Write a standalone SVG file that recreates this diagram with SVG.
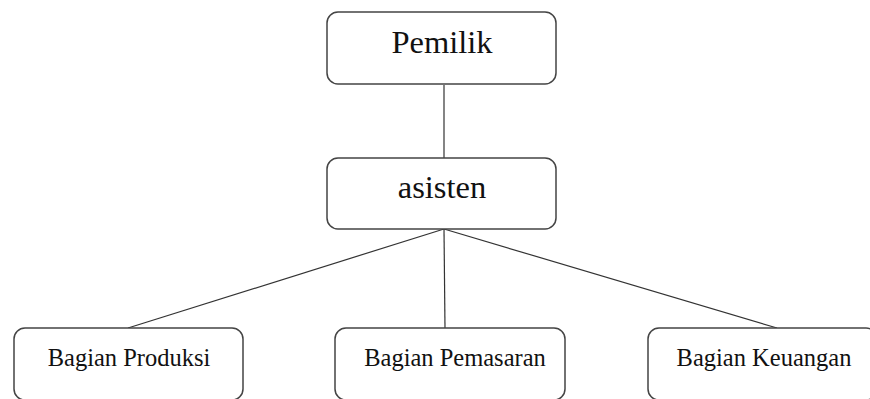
<svg xmlns="http://www.w3.org/2000/svg" width="870" height="399" viewBox="0 0 870 399">
<style>
.box{fill:#fff;stroke:#444;stroke-width:1.5}
.conn line{stroke:#333;stroke-width:1.2}
.big{font-family:"Liberation Serif",serif;font-size:32.5px;fill:#111;text-anchor:middle}
.small{font-family:"Liberation Serif",serif;font-size:24.5px;fill:#111;text-anchor:middle}
</style>
<rect width="870" height="399" fill="#fff"/>
<g class="conn">
<line x1="444" y1="85" x2="444" y2="158"/>
<line x1="444" y1="229" x2="128" y2="328"/>
<line x1="444" y1="229" x2="445" y2="328"/>
<line x1="444" y1="229" x2="777" y2="328"/>
</g>
<g id="pemilik"><rect class="box" x="327" y="12" width="229" height="72" rx="11"/><text class="big" x="442" y="53">Pemilik</text></g>
<g id="asisten"><rect class="box" x="327" y="158" width="229" height="71" rx="11"/><text class="big" x="442" y="198">asisten</text></g>
<g id="produksi"><rect class="box" x="14" y="328" width="229" height="72" rx="11"/><text class="small" x="129" y="366">Bagian Produksi</text></g>
<g id="pemasaran"><rect class="box" x="335" y="328" width="230" height="72" rx="11"/><text class="small" x="455" y="366">Bagian Pemasaran</text></g>
<g id="keuangan"><rect class="box" x="648" y="328" width="229" height="72" rx="11"/><text class="small" x="764" y="366">Bagian Keuangan</text></g>
</svg>
